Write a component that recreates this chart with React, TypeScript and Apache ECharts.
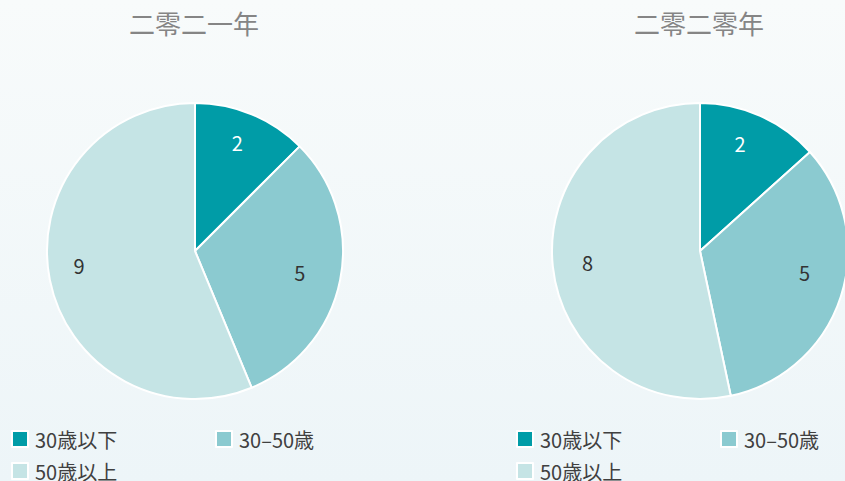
import React, { useEffect, useRef } from "react";
import * as echarts from "echarts";

const categories = ["30歳以下", "30–50歳", "50歳以上"];
const titles = ["二零二一年", "二零二零年"];
const values2021 = [2, 5, 9];
const values2020 = [2, 5, 8];
const colors = ["#009ca7", "#8bcad0", "#c5e4e5"];
const labelColors = ["#ffffff", "#333333", "#333333"];
// small nudges of the value labels to match the reference placement
const labelNudges = [
  [[-1, -4], [-6, -1], [-5, -8]],
  [[-6, -4], [-3, -13], [0, 0]],
];

export default function App() {
  const ref = useRef<HTMLDivElement>(null);
  useEffect(() => {
    if (!ref.current) return;
    const chart = echarts.init(ref.current, undefined, { renderer: "svg" });
    const centers = [
      [195, 251],
      [700, 251],
    ];
    const datasets = [values2021, values2020];
    const font = "'Noto Sans CJK JP', 'Noto Sans', sans-serif";
    const series: any[] = [];
    datasets.forEach((vals, i) => {
      series.push({
        type: "pie",
        center: centers[i],
        radius: [0, 148],
        startAngle: 90,
        clockwise: true,
        silent: true,
        label: { show: false },
        labelLine: { show: false },
        itemStyle: { borderColor: "#ffffff", borderWidth: 2 },
        data: vals.map((v, k) => ({
          name: categories[k],
          value: v,
          itemStyle: { color: colors[k] },
        })),
      });
    });
    datasets.forEach((vals, i) => {
      series.push({
        type: "pie",
        center: centers[i],
        radius: [72, 148],
        startAngle: 90,
        clockwise: true,
        silent: true,
        labelLine: { show: false },
        itemStyle: { color: "rgba(0,0,0,0)", borderWidth: 0 },
        label: {
          show: true,
          position: "inside",
          formatter: "{c}",
          fontSize: 20,
          fontFamily: font,
        },
        data: vals.map((v, k) => ({
          name: categories[k],
          value: v,
          label: { color: labelColors[k], offset: labelNudges[i][k] },
        })),
      });
    });
    const legendPos = [
      [0, 0],
      [204, 0],
      [0, 32],
    ];
    const legends: any[] = [];
    [11, 516].forEach((baseX) => {
      categories.forEach((c, k) => {
        legends.push({
          left: baseX + legendPos[k][0],
          top: 429 + legendPos[k][1],
          padding: 0,
          orient: "horizontal",
          icon: "rect",
          itemWidth: 16,
          itemHeight: 16,
          selectedMode: false,
          textStyle: {
            fontSize: 20,
            color: "#404040",
            fontFamily: font,
            padding: [0, 0, 0, 2],
          },
          data: [{ name: c, itemStyle: { color: colors[k] } }],
        });
      });
    });
    chart.setOption({
      animation: false,
      backgroundColor: {
        type: "linear",
        x: 0,
        y: 0,
        x2: 0,
        y2: 1,
        colorStops: [
          { offset: 0, color: "#f8fbfb" },
          { offset: 1, color: "#edf5f8" },
        ],
      },
      title: titles.map((t, i) => ({
        text: t,
        left: centers[i][0] - 1,
        top: 9,
        padding: 0,
        textAlign: "center",
        textStyle: {
          fontSize: 26,
          fontWeight: "normal",
          color: "#858585",
          fontFamily: font,
        },
      })),
      legend: legends,
      series,
    });
    return () => chart.dispose();
  }, []);
  return (
    <div
      ref={ref}
      style={{ position: "absolute", left: 0, top: 0, width: 845, height: 481 }}
    />
  );
}
